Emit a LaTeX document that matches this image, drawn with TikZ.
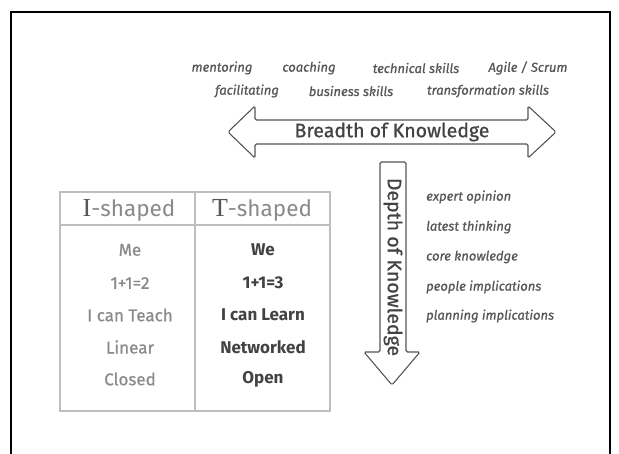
\documentclass[tikz,border=0pt]{standalone}
\usepackage{fontspec}
\setmainfont{Fira Sans}
\newfontfamily\heavyfont{Fira Sans}[FakeBold=0.8]
\newfontfamily\seriffont{Liberation Serif}
\definecolor{inkdark}{HTML}{424242}
\definecolor{inkmid}{HTML}{575757}
\definecolor{inklight}{HTML}{8A8A8A}
\definecolor{gridgray}{HTML}{BEBEBE}
\definecolor{arrowline}{HTML}{555555}
\tikzset{
  frame/.style={draw=black, line width=2.4pt},
  bigarrow/.style={draw=arrowline, line width=1.1pt, fill=white, rounded corners=1.5pt},
  arrowtext/.style={text=inkdark, font=\heavyfont\fontsize{19.5}{21}\selectfont, inner sep=0pt},
  skill/.style={text=inkmid, font=\heavyfont\itshape\fontsize{13}{15}\selectfont, inner sep=0pt},
  depthlabel/.style={text=inkmid, font=\heavyfont\itshape\fontsize{13}{15}\selectfont, inner sep=0pt, anchor=west},
  grid/.style={draw=gridgray, line width=2.6pt},
  header/.style={text=inklight, font=\fontsize{22.5}{24}\selectfont, inner sep=0pt},
  icell/.style={text=inklight, font=\heavyfont\fontsize{17}{19}\selectfont, inner sep=0pt},
  tcell/.style={text=inkdark, font=\bfseries\fontsize{17}{19}\selectfont, inner sep=0pt},
}
\newcommand{\bigletter}[1]{{\color{inkmid}\seriffont\fontsize{26}{28}\selectfont #1}}
\begin{document}
\begin{tikzpicture}[x=1pt,y=-1pt]
\useasboundingbox (0,0) rectangle (619,454);
\fill[white] (0,0) rectangle (619,454);
% outer frame, open past the lower edge
\begin{scope}
  \clip (0,0) rectangle (619,454);
  \draw[frame] (11,12) rectangle (610,480);
\end{scope}

% breadth skills
\node[skill] (mentoring) at (222,68) {mentoring};
\node[skill] (coaching) at (309,68) {coaching};
\node[skill] (technical) at (416,68) {technical skills};
\node[skill] (agile) at (528,68) {Agile / Scrum};
\node[skill] (facilitating) at (247,91) {facilitating};
\node[skill] (business) at (351,91) {business skills};
\node[skill] (transformation) at (488,91) {transformation skills};

% breadth arrow
\draw[bigarrow] (228,132) -- (255,106) -- (255,120) -- (528,120) -- (528,106)
  -- (556,132) -- (528,158) -- (528,144) -- (255,144) -- (255,158) -- cycle;
\node[arrowtext] (breadth) at (392,132) {Breadth of Knowledge};

% depth arrow
\draw[bigarrow] (380,162) -- (406,162) -- (406,352) -- (420,352) -- (392,385)
  -- (364,352) -- (380,352) -- cycle;
\node[arrowtext, rotate=-90] (depth) at (393,267) {Depth of Knowledge};

% depth topics
\node[depthlabel] (expert) at (426,197) {expert opinion};
\node[depthlabel] (latest) at (426,227) {latest thinking};
\node[depthlabel] (core) at (426,257) {core knowledge};
\node[depthlabel] (people) at (426,287) {people implications};
\node[depthlabel] (planning) at (426,316) {planning implications};

% comparison table
\draw[grid] (60,192) rectangle (330,411);
\draw[grid] (60,225) -- (330,225);
\draw[grid] (195,192) -- (195,411);

\node[header, anchor=base] (ihead) at (129,217) {\bigletter{I}-shaped};
\node[header, anchor=base] (thead) at (262,217) {\bigletter{T}-shaped};

\node[icell] (i1) at (130,250) {Me};
\node[icell] (i2) at (130,283) {1+1=2};
\node[icell] (i3) at (130,315) {I can Teach};
\node[icell] (i4) at (130,347) {Linear};
\node[icell] (i5) at (130,379) {Closed};

\node[tcell] (t1) at (263,250) {We};
\node[tcell] (t2) at (263,283) {1+1=3};
\node[tcell] (t3) at (263,315) {I can Learn};
\node[tcell] (t4) at (263,347) {Networked};
\node[tcell] (t5) at (263,379) {Open};
\end{tikzpicture}
\end{document}
